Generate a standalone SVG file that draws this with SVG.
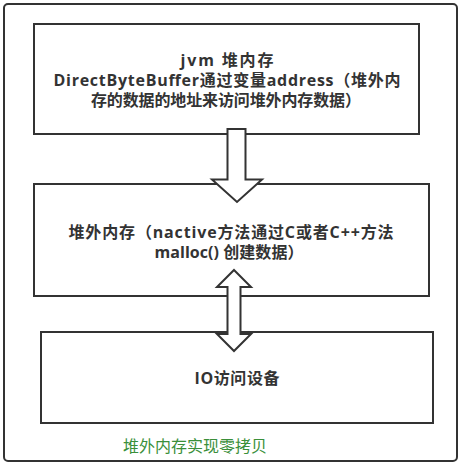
<svg xmlns="http://www.w3.org/2000/svg" width="463" height="468" viewBox="0 0 463 468">
<style>
.box{fill:#ffffff;stroke:#333333;stroke-width:2}
.arrow{fill:#ffffff;stroke:#333333;stroke-width:2;stroke-linejoin:miter}
.t{font-family:"Open Sans","Noto Sans CJK SC",sans-serif;font-size:16px;font-weight:bold;fill:#333333;text-anchor:middle}
.cap{font-family:"Noto Sans CJK SC",sans-serif;font-size:16px;fill:#3a8f3a}
</style>
<rect width="463" height="468" fill="#ffffff"/>
<rect x="4" y="4" width="453" height="457" rx="4" ry="4" class="box"/>
<g id="node-jvm">
<rect x="34" y="24" width="385" height="110" class="box"/>
<text class="t" x="227" y="66" textLength="93" lengthAdjust="spacing">jvm 堆内存</text>
<text class="t" x="227" y="86" textLength="347" lengthAdjust="spacing">DirectByteBuffer通过变量address（堆外内</text>
<text class="t" x="226" y="106" textLength="270" lengthAdjust="spacing">存的数据的地址来访问堆外内存数据）</text>
</g>
<g id="node-offheap">
<rect x="34" y="184" width="395" height="112" class="box"/>
<text class="t" x="231" y="238" textLength="325" lengthAdjust="spacing">堆外内存（nactive方法通过C或者C++方法</text>
<text class="t" x="229" y="258" textLength="149" lengthAdjust="spacing">malloc() 创建数据）</text>
</g>
<g id="node-io">
<rect x="41" y="332" width="392" height="91" class="box"/>
<text class="t" x="237" y="384" textLength="85" lengthAdjust="spacing">IO访问设备</text>
</g>
<g id="connectors">
<polygon class="arrow" points="227.5,129 245.5,129 245.5,179.5 262,179.5 237,202 212,179.5 227.5,179.5"/>
<polygon class="arrow" points="234,270 251,287 240.5,287 240.5,334 251,334 234,351 217,334 227.5,334 227.5,287 217,287"/>
</g>
<text class="cap" x="123" y="452" textLength="144" lengthAdjust="spacing">堆外内存实现零拷贝</text>
</svg>
